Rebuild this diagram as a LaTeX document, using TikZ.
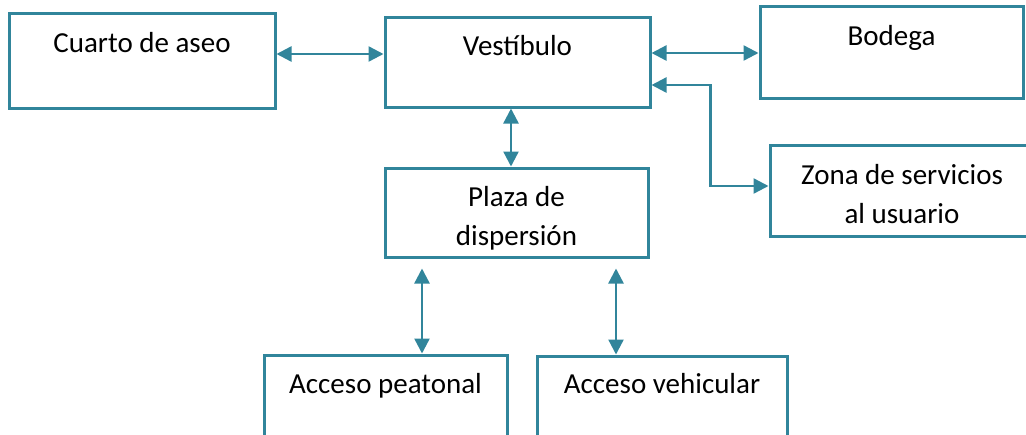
\documentclass[tikz,border=0pt]{standalone}
\usepackage{fontspec}
\setmainfont{Carlito}
\usetikzlibrary{arrows.meta}
\definecolor{boxteal}{RGB}{49,133,155}

\begin{document}
\begin{tikzpicture}[x=0.5pt,y=-0.5pt,>={Triangle[length=7.5pt,width=7.5pt]},
  every node/.style={font=\fontsize{14.5pt}{19.5pt}\selectfont},
  room/.style={draw=boxteal,line width=1.5pt,inner sep=0pt,align=center},
  link/.style={<->,draw=boxteal,line width=1.2pt}]
  \useasboundingbox (0,0) rectangle (1026,434);
  \clip (0,0) rectangle (1026,434);
  \node[room,minimum width=133pt,minimum height=47.5pt,
    text height=19.5pt,text depth=28pt] (cuarto) at (142,60.5) {Cuarto de aseo};
  \node[room,minimum width=132.5pt,minimum height=45pt,
    text height=19pt,text depth=26pt] (vest) at (517.5,62) {Vestíbulo};
  \node[room,minimum width=131.5pt,minimum height=46pt,
    text height=19.5pt,text depth=26.5pt] (bodega) at (891.5,52) {Bodega};
  \node[room,minimum width=132pt,minimum height=45.5pt,
    text height=39pt,text depth=6.5pt] (zona) at (902,190.5)
    {Zona de servicios\\al usuario};
  \node[room,minimum width=131.5pt,minimum height=44.5pt,
    text height=38.5pt,text depth=6pt] (plaza) at (516.5,212.5)
    {Plaza de\\dispersión};
  \node[room,minimum width=121.5pt,minimum height=50pt,
    text height=19pt,text depth=31pt] (peatonal) at (385.5,405) {Acceso peatonal};
  \node[room,minimum width=125pt,minimum height=50pt,
    text height=18.5pt,text depth=31.5pt] (vehicular) at (662,406) {Acceso vehicular};
  % connections
  \draw[link] ([yshift=3.25pt]cuarto.east) -- ([yshift=4pt]vest.west);
  \draw[link] ([yshift=4.5pt]vest.east) -- ([yshift=-0.5pt]bodega.west);
  \draw[link] ([yshift=-11.5pt]vest.east) -- ++(59,0) |- ([yshift=2.25pt]zona.west);
  \draw[link] ([xshift=-3.25pt]vest.south) -- ([xshift=-2.75pt]plaza.north);
  \draw[link,shorten <=5pt] ([xshift=-47.25pt]plaza.south)
    -- ([xshift=18.25pt]peatonal.north);
  \draw[link,shorten <=5pt] ([xshift=49.75pt]plaza.south)
    -- ([xshift=-23pt]vehicular.north);
\end{tikzpicture}
\end{document}
